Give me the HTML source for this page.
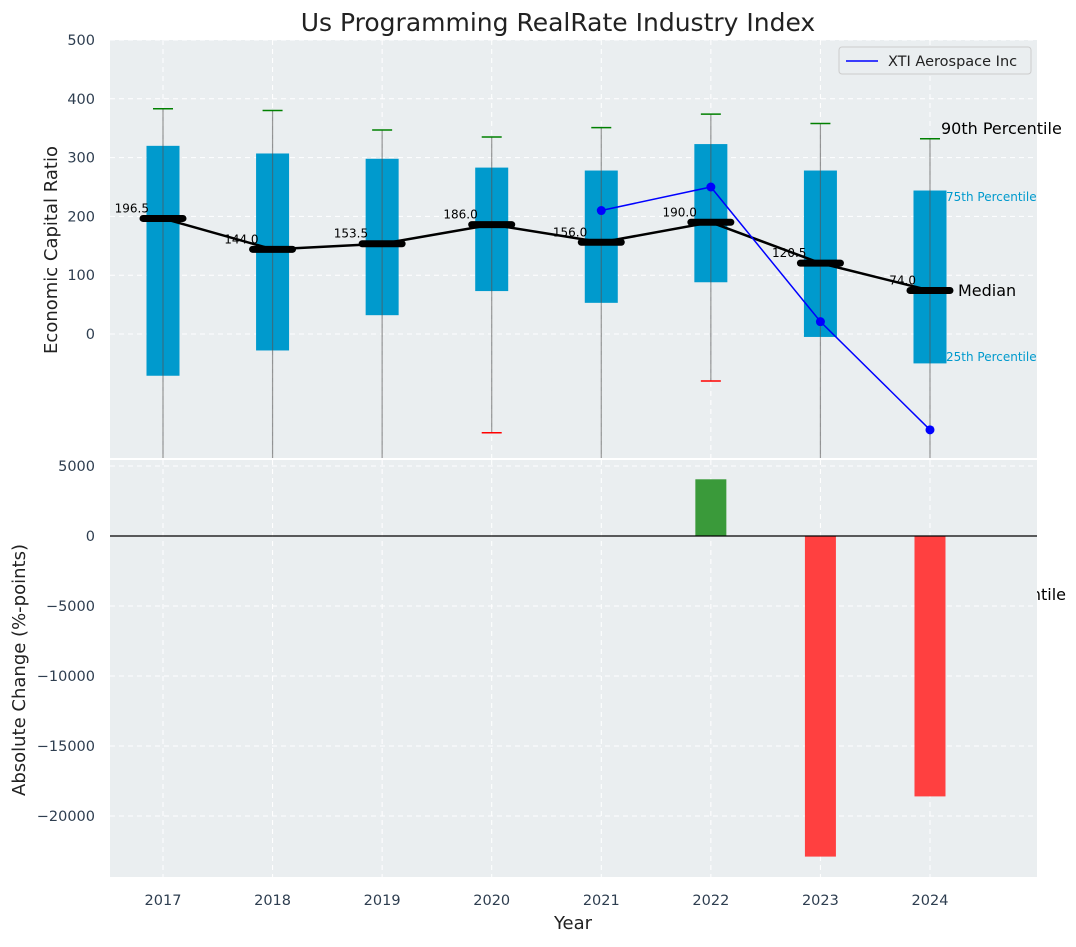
<!DOCTYPE html>
<html><head><meta charset="utf-8"><style>
body{margin:0;background:#fff;font-family:"Liberation Sans","DejaVu Sans",sans-serif}
svg text{font-family:"DejaVu Sans","Liberation Sans",sans-serif}
</style></head><body>
<svg id="chart" width="1076" height="942"></svg>
<script>
const years=[2017,2018,2019,2020,2021,2022,2023,2024];
const p10=[-250,-250,-250,-168,-250,-80,-250,-250];
const p25=[-71,-28,32,73,53,88,-5,-50];
const medians=[196.5,144.0,153.5,186.0,156.0,190.0,120.5,74.0];
const p75=[320,307,298,283,278,323,278,244];
const p90=[383,380,347,335,351,374,358,332];
const xtiYears=[2021,2022,2023,2024];
const xtiValues=[210,250,21,-163];
const changeYears=[2022,2023,2024];
const changeValues=[4050,-22900,-18600];
const topTicks=[0,100,200,300,400,500];
const botTicks=[5000,0,-5000,-10000,-15000,-20000];

const NS="http://www.w3.org/2000/svg";
const svg=document.getElementById('chart');
function el(tag,attrs,parent){const e=document.createElementNS(NS,tag);for(const k in attrs)e.setAttribute(k,attrs[k]);(parent||svg).appendChild(e);return e;}
const L=110,R=1037;
const x=v=>163+(v-2017)*109.57;
const yT=v=>334-v*0.588;
const yB=v=>536-v*0.014;

let t=el('rect',{x:L,y:40,width:R-L,height:418,fill:'#eaeef0'});

topTicks.forEach(v=>{
  el('line',{x1:L,x2:R,y1:yT(v),y2:yT(v),stroke:'#fff','stroke-dasharray':'5,4','stroke-width':1});
  const tx=el('text',{x:95,y:yT(v)+5,'text-anchor':'end','font-size':14.5,fill:'#2e3e50'});tx.textContent=v;
  
});
years.forEach(yr=>el('line',{x1:x(yr),x2:x(yr),y1:40,y2:458,stroke:'#fff','stroke-dasharray':'5,4'}));
const tg=el('g',{'clip-path':'url(#ct)'});
const cp=el('clipPath',{id:'ct'});el('rect',{x:L,y:40,width:R-L,height:418},cp);
years.forEach((yr,i)=>{
  const cx=x(yr),hw=16.5;
  const b=el('rect',{x:cx-hw,y:yT(p75[i]),width:2*hw,height:yT(p25[i])-yT(p75[i]),fill:'#009acd'},tg);
  
  el('line',{x1:cx,x2:cx,y1:yT(p90[i]),y2:yT(p10[i]),stroke:'#555','stroke-opacity':0.6,'stroke-width':1.2},tg);
  el('line',{x1:cx-10,x2:cx+10,y1:yT(p90[i]),y2:yT(p90[i]),stroke:'green','stroke-width':1.5},tg);
  if(p10[i]>-211)el('line',{x1:cx-10,x2:cx+10,y1:yT(p10[i]),y2:yT(p10[i]),stroke:'red','stroke-width':1.5},tg);
});
let mp=medians.map((m,i)=>x(years[i])+','+yT(m)).join(' ');
el('polyline',{points:mp,fill:'none',stroke:'#000','stroke-width':2.5},tg);
years.forEach((yr,i)=>{
  const cx=x(yr);
  const m=el('line',{x1:cx-20,x2:cx+20,y1:yT(medians[i]),y2:yT(medians[i]),stroke:'#000','stroke-width':7,'stroke-linecap':'round'},tg);
  
  const lt=el('text',{x:cx-14,y:yT(medians[i])-6,'text-anchor':'end','font-size':12,fill:'#000'},tg);lt.textContent=medians[i].toFixed(1);
});
el('polyline',{points:xtiYears.map((yr,i)=>x(yr)+','+yT(xtiValues[i])).join(' '),fill:'none',stroke:'blue','stroke-width':1.5},tg);
xtiYears.forEach((yr,i)=>{const c=el('circle',{cx:x(yr),cy:yT(xtiValues[i]),r:4.5,fill:'blue'},tg);
  });
const lx=x(2024);
[['90th Percentile',lx+11,134,16,'#000'],['75th Percentile',lx+16,201,12,'#009acd'],['Median',lx+28,296,16,'#000'],['25th Percentile',lx+16,361,12,'#009acd']].forEach(a=>{
  const tx=el('text',{x:a[1],y:a[2],'font-size':a[3],fill:a[4]});tx.textContent=a[0];
  
});
const t10=el('text',{x:1066,y:600,'font-size':16,fill:'#000','text-anchor':'end'});t10.textContent='10th Percentile';
const lg=el('g',{});
el('rect',{x:839,y:47,width:192,height:27,rx:3,fill:'#eaeef0',stroke:'#ccc'},lg);
el('line',{x1:846,x2:878,y1:61,y2:61,stroke:'blue','stroke-width':1.5},lg);
const lgt=el('text',{x:888,y:66,'font-size':14.5,fill:'#222'},lg);lgt.textContent='XTI Aerospace Inc';

const bb=el('rect',{x:L,y:460,width:R-L,height:417,fill:'#eaeef0'});

botTicks.forEach(v=>{
  el('line',{x1:L,x2:R,y1:yB(v),y2:yB(v),stroke:'#fff','stroke-dasharray':'5,4'});
  const tx=el('text',{x:95,y:yB(v)+5,'text-anchor':'end','font-size':14.5,fill:'#2e3e50'});tx.textContent=v<0?'\u2212'+(-v):v;
  
});
years.forEach(yr=>{
  el('line',{x1:x(yr),x2:x(yr),y1:460,y2:877,stroke:'#fff','stroke-dasharray':'5,4'});
  const tx=el('text',{x:x(yr),y:905,'text-anchor':'middle','font-size':14.5,fill:'#2e3e50'});tx.textContent=yr;
  
});
changeYears.forEach((yr,i)=>{
  const v=changeValues[i];
  const r=el('rect',{x:x(yr)-15.5,y:Math.min(yB(v),yB(0)),width:31,height:Math.abs(yB(v)-yB(0)),fill:v>=0?'#3a9a3a':'#ff4040'});
  
});
el('line',{x1:L,x2:R,y1:yB(0),y2:yB(0),stroke:'#000','stroke-width':1.2});

const ti=el('text',{x:558,y:31,'text-anchor':'middle','font-size':25,fill:'#222'});ti.textContent='Us Programming RealRate Industry Index';

const xl=el('text',{x:573,y:929,'text-anchor':'middle','font-size':18,fill:'#222'});xl.textContent='Year';

const y1=el('text',{x:0,y:0,'text-anchor':'middle','font-size':18,fill:'#222',transform:'translate(57,250) rotate(-90)'});y1.textContent='Economic Capital Ratio';

const y2=el('text',{x:0,y:0,'text-anchor':'middle','font-size':18,fill:'#222',transform:'translate(25,670) rotate(-90)'});y2.textContent='Absolute Change (%-points)';

</script>
</body></html>
